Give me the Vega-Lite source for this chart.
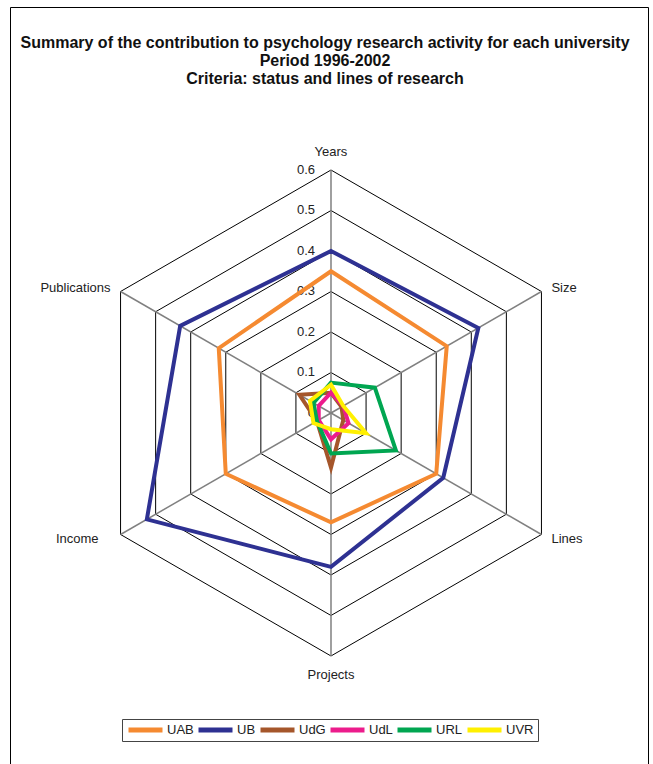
{
  "$schema": "https://vega.github.io/schema/vega-lite/v6.json",
  "width": 638,
  "height": 757,
  "autosize": {"type": "none"},
  "padding": {"left": 10, "top": 7, "right": 5, "bottom": 0},
  "title": {
    "text": ["Summary of the contribution to psychology research activity for each university", "Period 1996-2002", "Criteria: status and lines of research"],
    "fontSize": 16,
    "fontWeight": "bold",
    "font": "Liberation Sans",
    "lineHeight": 18,
    "anchor": "middle",
    "offset": -80,
    "dx": -4,
    "color": "#111"
  },
  "config": {
    "font": "Liberation Sans",
    "view": {"stroke": "#000", "strokeWidth": 1}
  },
  "encoding": {
    "x": {"field": "x", "type": "quantitative", "scale": {"domain": [-0.79259, 0.78272], "nice": false, "zero": false}, "axis": null},
    "y": {"field": "y", "type": "quantitative", "scale": {"domain": [-0.86667, 1.00247], "nice": false, "zero": false}, "axis": null}
  },
  "layer": [
    {
      "data": {"values": [{"r": 0.1}, {"r": 0.2}, {"r": 0.3}, {"r": 0.4}, {"r": 0.5}, {"r": 0.6}]},
      "transform": [
        {"calculate": "['Years','Size','Lines','Projects','Income','Publications']", "as": "crit"},
        {"flatten": ["crit"]},
        {"calculate": "indexof(['Years','Size','Lines','Projects','Income','Publications'], datum.crit)", "as": "idx"},
        {"calculate": "datum.r*sin(datum.idx*PI/3)", "as": "x"},
        {"calculate": "datum.r*cos(datum.idx*PI/3)", "as": "y"}
      ],
      "mark": {"type": "line", "interpolate": "linear-closed", "color": "#000", "strokeWidth": 1},
      "encoding": {
        "detail": {"field": "r", "type": "nominal"},
        "order": {"field": "idx", "type": "quantitative"}
      }
    },
    {
      "data": {"values": [{"crit": "Years"}, {"crit": "Size"}, {"crit": "Lines"}, {"crit": "Projects"}, {"crit": "Income"}, {"crit": "Publications"}]},
      "transform": [
        {"calculate": "indexof(['Years','Size','Lines','Projects','Income','Publications'], datum.crit)", "as": "idx"},
        {"calculate": "0.6*sin(datum.idx*PI/3)", "as": "x"},
        {"calculate": "0.6*cos(datum.idx*PI/3)", "as": "y"}
      ],
      "mark": {"type": "rule", "color": "#808080", "strokeWidth": 1.5},
      "encoding": {
        "x2": {"datum": 0},
        "y2": {"datum": 0}
      }
    },
    {
      "data": {"values": [{"r": 0}, {"r": 0.1}, {"r": 0.2}, {"r": 0.3}, {"r": 0.4}, {"r": 0.5}, {"r": 0.6}]},
      "transform": [
        {"calculate": "0", "as": "x"},
        {"calculate": "datum.r", "as": "y"}
      ],
      "mark": {"type": "text", "align": "right", "baseline": "middle", "dx": -16, "fontSize": 13, "color": "#222"},
      "encoding": {
        "text": {"field": "r", "type": "quantitative", "format": ".1~f"}
      }
    },
    {
      "data": {"values": [{"crit": "Years"}, {"crit": "Size"}, {"crit": "Lines"}, {"crit": "Projects"}, {"crit": "Income"}, {"crit": "Publications"}]},
      "transform": [
        {"calculate": "indexof(['Years','Size','Lines','Projects','Income','Publications'], datum.crit)", "as": "idx"},
        {"calculate": "0.6*sin(datum.idx*PI/3)", "as": "x"},
        {"calculate": "0.6*cos(datum.idx*PI/3)", "as": "y"}
      ],
      "layer": [
        {"transform": [{"filter": "datum.crit == 'Years'"}], "mark": {"type": "text", "align": "center", "baseline": "middle", "dy": -18, "fontSize": 13, "color": "#222"}, "encoding": {"text": {"field": "crit"}}},
        {"transform": [{"filter": "datum.crit == 'Projects'"}], "mark": {"type": "text", "align": "center", "baseline": "middle", "dy": 19, "fontSize": 13, "color": "#222"}, "encoding": {"text": {"field": "crit"}}},
        {"transform": [{"filter": "datum.crit == 'Size'"}], "mark": {"type": "text", "align": "left", "baseline": "middle", "dx": 10, "dy": -3, "fontSize": 13, "color": "#222"}, "encoding": {"text": {"field": "crit"}}},
        {"transform": [{"filter": "datum.crit == 'Lines'"}], "mark": {"type": "text", "align": "left", "baseline": "middle", "dx": 10, "dy": 5, "fontSize": 13, "color": "#222"}, "encoding": {"text": {"field": "crit"}}},
        {"transform": [{"filter": "datum.crit == 'Publications'"}], "mark": {"type": "text", "align": "right", "baseline": "middle", "dx": -10, "dy": -3, "fontSize": 13, "color": "#222"}, "encoding": {"text": {"field": "crit"}}},
        {"transform": [{"filter": "datum.crit == 'Income'"}], "mark": {"type": "text", "align": "right", "baseline": "middle", "dx": -22, "dy": 5, "fontSize": 13, "color": "#222"}, "encoding": {"text": {"field": "crit"}}}
      ]
    },
    {
      "data": {"values": [
        {"univ": "UAB", "crit": "Years", "value": 0.35},
        {"univ": "UAB", "crit": "Size", "value": 0.33},
        {"univ": "UAB", "crit": "Lines", "value": 0.30},
        {"univ": "UAB", "crit": "Projects", "value": 0.27},
        {"univ": "UAB", "crit": "Income", "value": 0.30},
        {"univ": "UAB", "crit": "Publications", "value": 0.32},
        {"univ": "UB", "crit": "Years", "value": 0.40},
        {"univ": "UB", "crit": "Size", "value": 0.42},
        {"univ": "UB", "crit": "Lines", "value": 0.32},
        {"univ": "UB", "crit": "Projects", "value": 0.38},
        {"univ": "UB", "crit": "Income", "value": 0.525},
        {"univ": "UB", "crit": "Publications", "value": 0.43},
        {"univ": "UdG", "crit": "Years", "value": 0.05},
        {"univ": "UdG", "crit": "Size", "value": 0.03},
        {"univ": "UdG", "crit": "Lines", "value": 0.035},
        {"univ": "UdG", "crit": "Projects", "value": 0.135},
        {"univ": "UdG", "crit": "Income", "value": 0.04},
        {"univ": "UdG", "crit": "Publications", "value": 0.09},
        {"univ": "UdL", "crit": "Years", "value": 0.05},
        {"univ": "UdL", "crit": "Size", "value": 0.035},
        {"univ": "UdL", "crit": "Lines", "value": 0.05},
        {"univ": "UdL", "crit": "Projects", "value": 0.065},
        {"univ": "UdL", "crit": "Income", "value": 0.035},
        {"univ": "UdL", "crit": "Publications", "value": 0.035},
        {"univ": "URL", "crit": "Years", "value": 0.075},
        {"univ": "URL", "crit": "Size", "value": 0.125},
        {"univ": "URL", "crit": "Lines", "value": 0.185},
        {"univ": "URL", "crit": "Projects", "value": 0.10},
        {"univ": "URL", "crit": "Income", "value": 0.04},
        {"univ": "URL", "crit": "Publications", "value": 0.05},
        {"univ": "UVR", "crit": "Years", "value": 0.07},
        {"univ": "UVR", "crit": "Size", "value": 0.035},
        {"univ": "UVR", "crit": "Lines", "value": 0.10},
        {"univ": "UVR", "crit": "Projects", "value": 0.04},
        {"univ": "UVR", "crit": "Income", "value": 0.05},
        {"univ": "UVR", "crit": "Publications", "value": 0.06}
      ]},
      "transform": [
        {"calculate": "indexof(['Years','Size','Lines','Projects','Income','Publications'], datum.crit)", "as": "idx"},
        {"calculate": "datum.value*sin(datum.idx*PI/3)", "as": "x"},
        {"calculate": "datum.value*cos(datum.idx*PI/3)", "as": "y"}
      ],
      "mark": {"type": "line", "interpolate": "linear-closed", "strokeWidth": 4, "strokeJoin": "miter"},
      "encoding": {
        "order": {"field": "idx", "type": "quantitative"},
        "color": {
          "field": "univ",
          "type": "nominal",
          "scale": {"domain": ["UAB", "UB", "UdG", "UdL", "URL", "UVR"], "range": ["#F58A31", "#2E3192", "#A5562B", "#EC1C8C", "#00A651", "#FFF000"]},
          "legend": {
            "title": null,
            "orient": "none",
            "legendX": 112,
            "legendY": 712,
            "direction": "horizontal",
            "symbolType": "stroke",
            "symbolStrokeWidth": 5,
            "symbolSize": 1156,
            "clipHeight": 14,
            "gridAlign": "none",
            "labelFontSize": 13,
            "labelColor": "#222",
            "labelFont": "Liberation Sans",
            "labelOffset": 2,
            "columnPadding": 2,
            "padding": 4,
            "strokeColor": "#444",
            "fillColor": "#fff"
          }
        }
      }
    }
  ]
}
